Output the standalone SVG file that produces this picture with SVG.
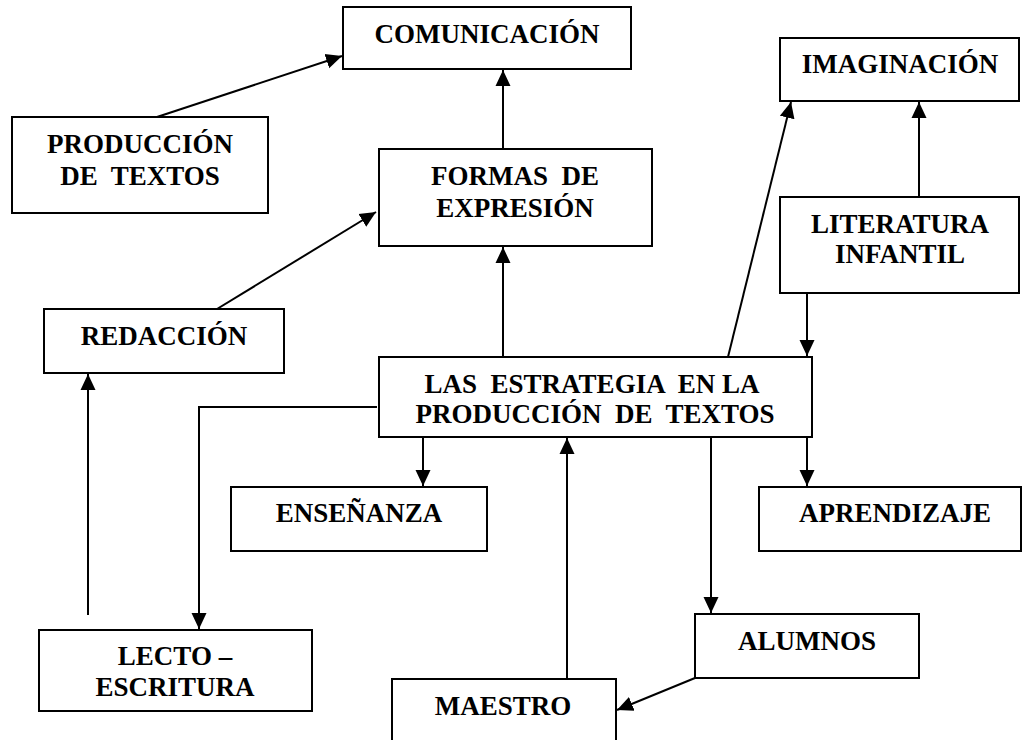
<svg xmlns="http://www.w3.org/2000/svg" width="1024" height="740" viewBox="0 0 1024 740">
<style>
.box{fill:#fff;stroke:#000;stroke-width:2}
.t{font-family:"Liberation Serif","Times New Roman",serif;font-weight:bold;font-size:27px;text-anchor:middle;fill:#000;white-space:pre}
.c{fill:none;stroke:#000;stroke-width:2}
</style>
<defs>
<marker id="ah" markerUnits="userSpaceOnUse" markerWidth="18" markerHeight="18" viewBox="0 0 18 18" refX="16" refY="9" orient="auto">
<path d="M0,1.5 L16,9 L0,16.5 Z" fill="#000"/>
</marker>
</defs>
<rect width="1024" height="740" fill="#fff"/>
<g id="connectors">
<line class="c" x1="157" y1="117" x2="342" y2="56" marker-end="url(#ah)"/>
<line class="c" x1="503" y1="149" x2="503" y2="70" marker-end="url(#ah)"/>
<line class="c" x1="217" y1="309" x2="376" y2="212" marker-end="url(#ah)"/>
<line class="c" x1="503" y1="357" x2="503" y2="247" marker-end="url(#ah)"/>
<line class="c" x1="728" y1="357" x2="791" y2="102" marker-end="url(#ah)"/>
<line class="c" x1="919" y1="197" x2="919" y2="102" marker-end="url(#ah)"/>
<line class="c" x1="807" y1="293" x2="807" y2="356" marker-end="url(#ah)"/>
<polyline class="c" points="377,407 199,407 199,629" marker-end="url(#ah)"/>
<line class="c" x1="88" y1="615" x2="88" y2="374" marker-end="url(#ah)"/>
<line class="c" x1="423" y1="437" x2="423" y2="486" marker-end="url(#ah)"/>
<line class="c" x1="807" y1="437" x2="807" y2="486" marker-end="url(#ah)"/>
<line class="c" x1="711" y1="437" x2="711" y2="613" marker-end="url(#ah)"/>
<line class="c" x1="567" y1="679" x2="567" y2="438" marker-end="url(#ah)"/>
<line class="c" x1="695" y1="678" x2="617" y2="710" marker-end="url(#ah)"/>
</g>
<g id="comunicacion">
<rect class="box" x="343" y="7" width="288" height="62"/>
<text class="t" x="487" y="43">COMUNICACIÓN</text>
</g>
<g id="produccion">
<rect class="box" x="12" y="117" width="256" height="96"/>
<text class="t" x="140" y="153">PRODUCCIÓN</text>
<text class="t" x="140" y="185">DE  TEXTOS</text>
</g>
<g id="formas">
<rect class="box" x="379" y="149" width="273" height="97"/>
<text class="t" x="515" y="185">FORMAS  DE</text>
<text class="t" x="515" y="217">EXPRESIÓN</text>
</g>
<g id="imaginacion">
<rect class="box" x="780" y="38" width="239" height="63"/>
<text class="t" x="900" y="73">IMAGINACIÓN</text>
</g>
<g id="literatura">
<rect class="box" x="780" y="197" width="239" height="96"/>
<text class="t" x="900" y="233">LITERATURA</text>
<text class="t" x="900" y="263">INFANTIL</text>
</g>
<g id="redaccion">
<rect class="box" x="44" y="309" width="240" height="64"/>
<text class="t" x="164" y="345">REDACCIÓN</text>
</g>
<g id="estrategia">
<rect class="box" x="379" y="357" width="433" height="80"/>
<text class="t" x="592" y="393">LAS  ESTRATEGIA  EN LA</text>
<text class="t" x="595" y="423">PRODUCCIÓN  DE  TEXTOS</text>
</g>
<g id="ensenanza">
<rect class="box" x="231" y="487" width="256" height="64"/>
<text class="t" x="359" y="522">ENSEÑANZA</text>
</g>
<g id="aprendizaje">
<rect class="box" x="759" y="487" width="262" height="64"/>
<text class="t" x="895" y="522">APRENDIZAJE</text>
</g>
<g id="alumnos">
<rect class="box" x="695" y="614" width="224" height="64"/>
<text class="t" x="807" y="650">ALUMNOS</text>
</g>
<g id="lecto">
<rect class="box" x="39" y="630" width="273" height="81"/>
<text class="t" x="175" y="665">LECTO –</text>
<text class="t" x="175" y="696">ESCRITURA</text>
</g>
<g id="maestro">
<rect class="box" x="392" y="679" width="224" height="70"/>
<text class="t" x="503" y="715">MAESTRO</text>
</g>
</svg>
